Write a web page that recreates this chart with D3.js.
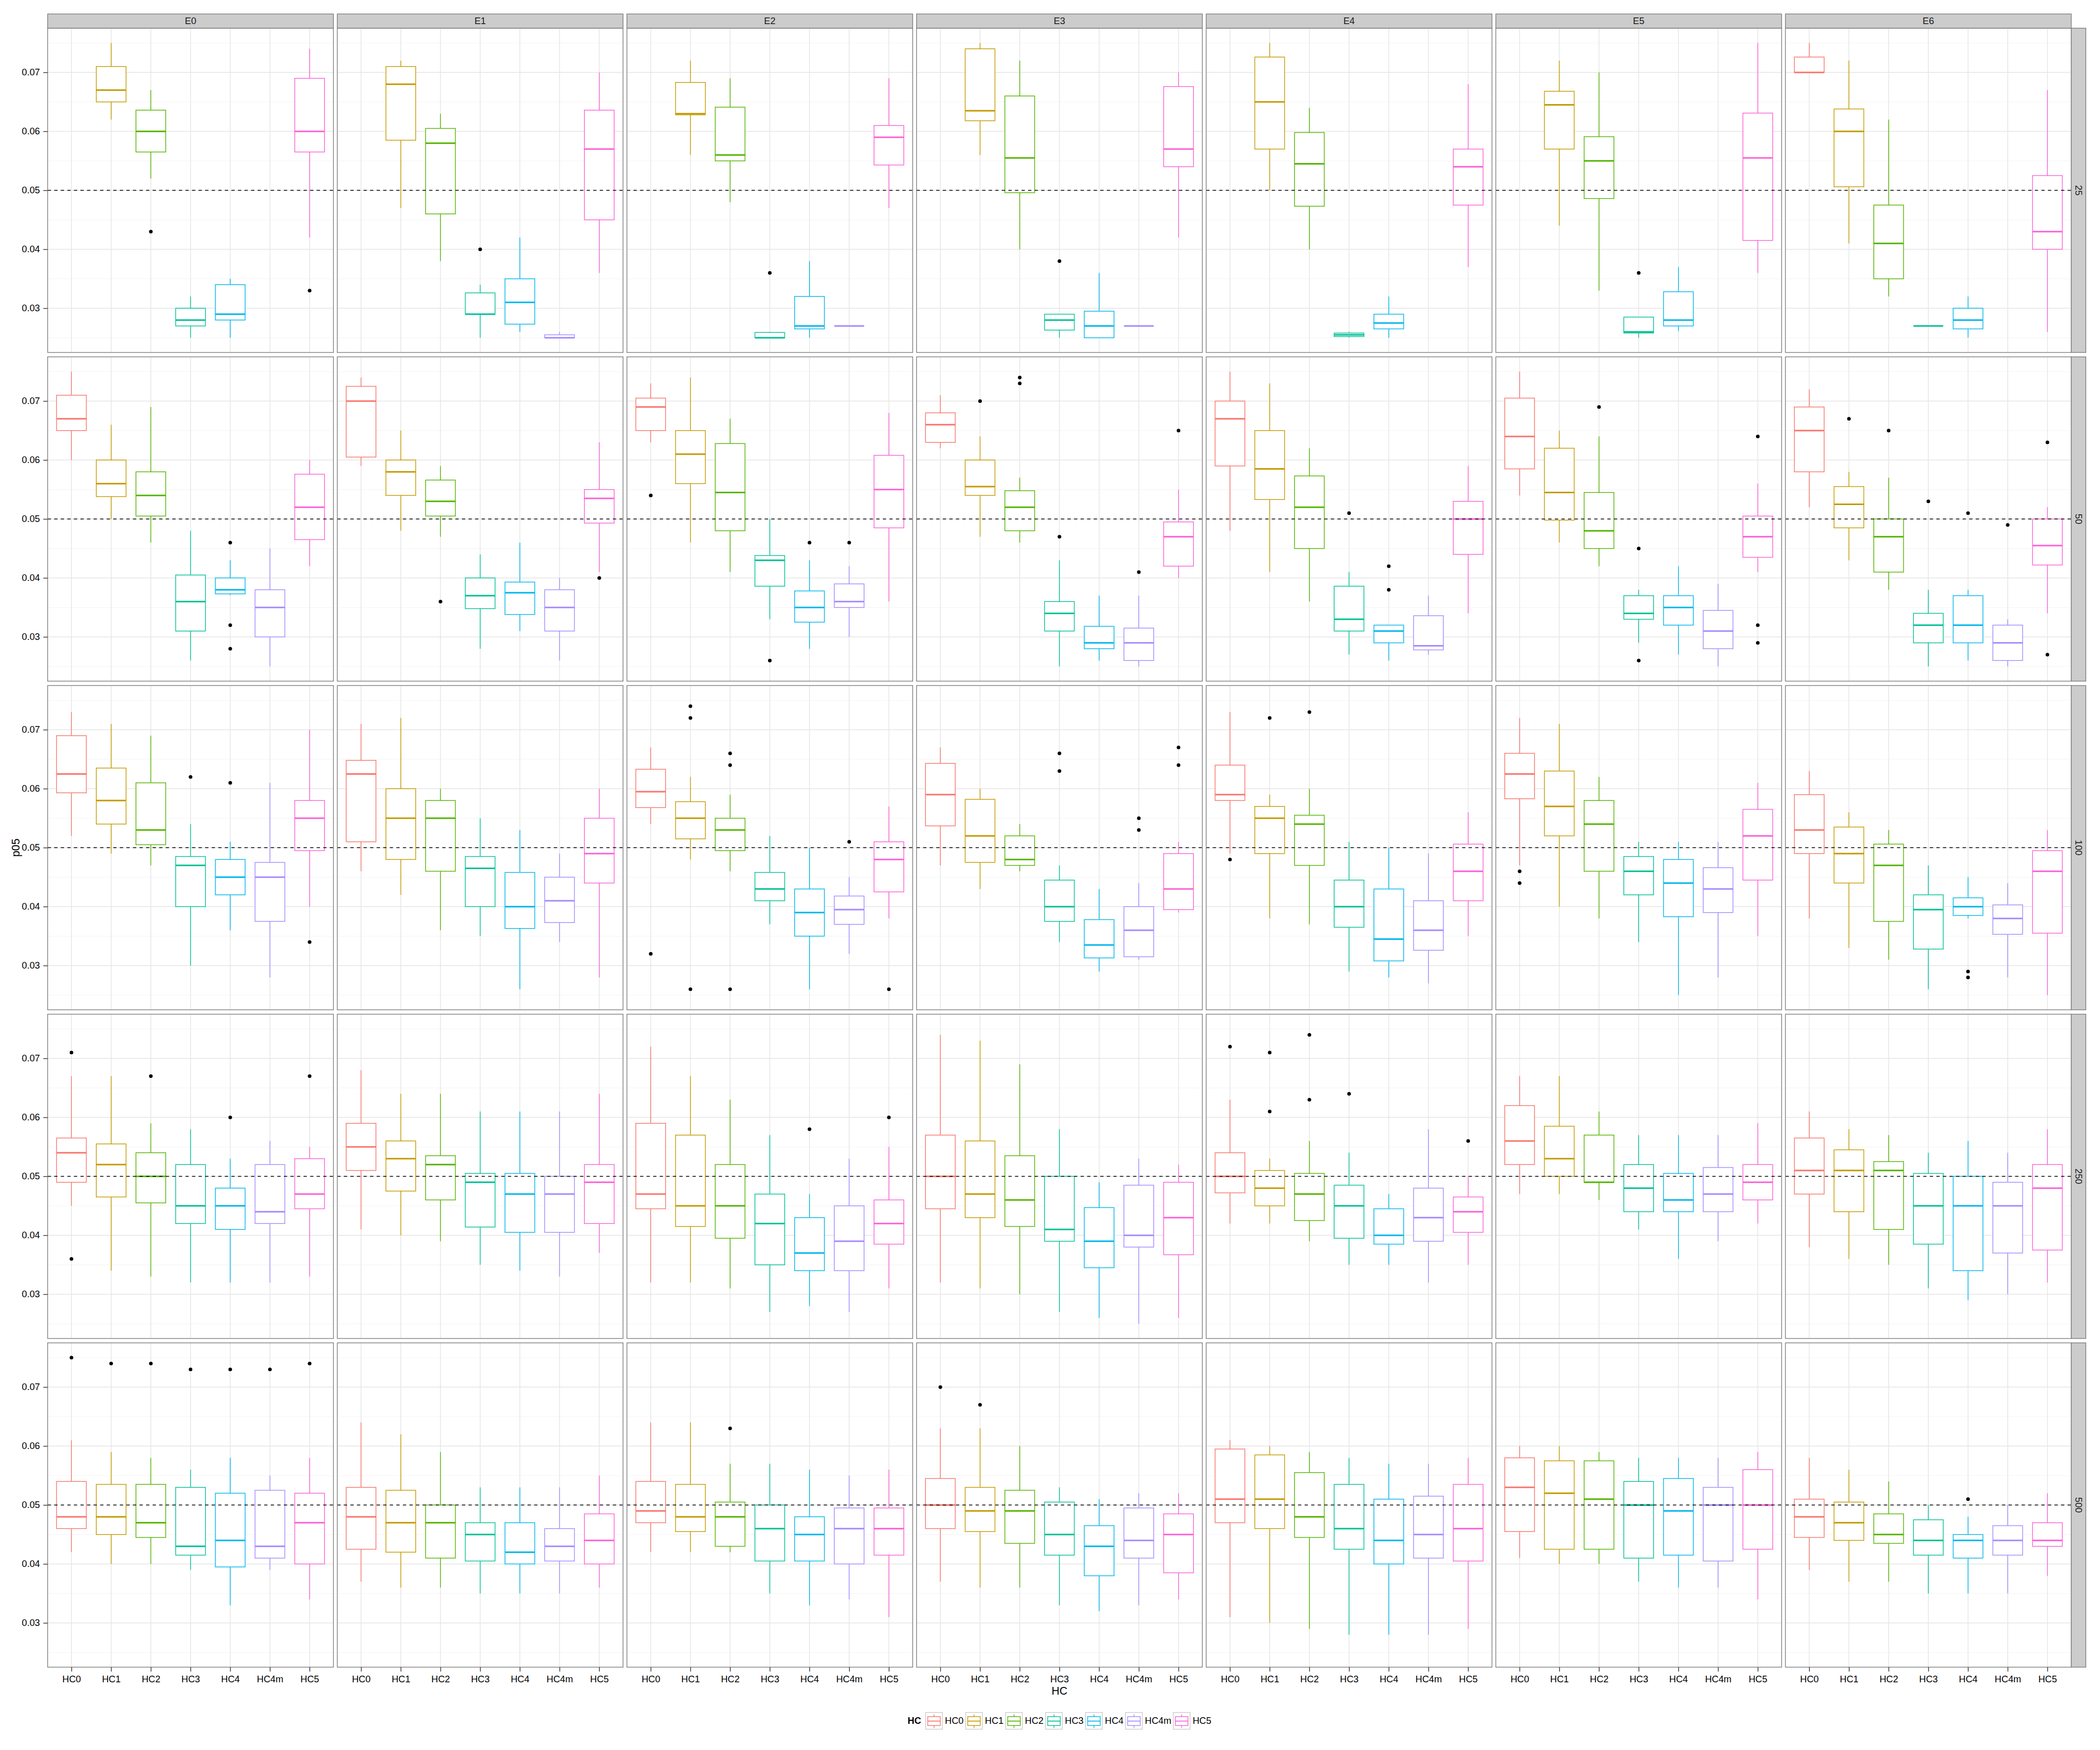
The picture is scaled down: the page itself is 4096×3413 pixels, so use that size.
<!DOCTYPE html>
<html><head><meta charset="utf-8">
<script src="https://cdn.jsdelivr.net/npm/d3@7"></script>
<style>html,body{margin:0;padding:0;background:#fff;}svg{display:block;}</style>
</head><body>
<script>
// ---------------- DATA ----------------
const E_COLS = ["E0","E1","E2","E3","E4","E5","E6"];
const N_ROWS = ["25","50","100","250","500"];
const HC_CATS = ["HC0","HC1","HC2","HC3","HC4","HC4m","HC5"];
const Y_TICKS = [0.03,0.04,0.05,0.06,0.07];
const REF_LINE = 0.05;
// each row: [E, HC, lowerWhisker, Q1, median, Q3, upperWhisker, outliers]
const stats25 = [
 ["E0","HC1",0.062,0.065,0.067,0.071,0.075,[]],
 ["E0","HC2",0.052,0.0565,0.060,0.0636,0.067,[0.043]],
 ["E0","HC3",0.025,0.027,0.028,0.030,0.032,[]],
 ["E0","HC4",0.025,0.028,0.029,0.034,0.035,[]],
 ["E0","HC5",0.042,0.0565,0.060,0.069,0.074,[0.033]],
 ["E1","HC1",0.047,0.0585,0.068,0.071,0.072,[]],
 ["E1","HC2",0.038,0.046,0.058,0.0605,0.063,[]],
 ["E1","HC3",0.025,0.029,0.029,0.0326,0.034,[0.040]],
 ["E1","HC4",0.026,0.0273,0.031,0.035,0.042,[]],
 ["E1","HC4m",0.025,0.025,0.025,0.0255,0.026,[]],
 ["E1","HC5",0.036,0.045,0.057,0.0636,0.070,[]],
 ["E2","HC1",0.056,0.0628,0.063,0.0683,0.072,[]],
 ["E2","HC2",0.048,0.055,0.056,0.0641,0.069,[]],
 ["E2","HC3",0.025,0.025,0.025,0.0259,0.026,[0.036]],
 ["E2","HC4",0.025,0.0265,0.027,0.032,0.038,[]],
 ["E2","HC4m",0.027,0.027,0.027,0.027,0.027,[]],
 ["E2","HC5",0.047,0.0543,0.059,0.061,0.069,[]],
 ["E3","HC1",0.056,0.0618,0.0635,0.074,0.075,[]],
 ["E3","HC2",0.040,0.0496,0.0555,0.066,0.072,[]],
 ["E3","HC3",0.025,0.0263,0.028,0.029,0.029,[0.038]],
 ["E3","HC4",0.025,0.025,0.027,0.0295,0.036,[]],
 ["E3","HC4m",0.027,0.027,0.027,0.027,0.027,[]],
 ["E3","HC5",0.042,0.054,0.057,0.0676,0.070,[]],
 ["E4","HC1",0.050,0.057,0.065,0.0726,0.075,[]],
 ["E4","HC2",0.040,0.0473,0.0545,0.0598,0.064,[]],
 ["E4","HC3",0.025,0.0252,0.0255,0.0258,0.026,[]],
 ["E4","HC4",0.025,0.0265,0.0275,0.029,0.032,[]],
 ["E4","HC5",0.037,0.0475,0.054,0.057,0.068,[]],
 ["E5","HC1",0.044,0.057,0.0645,0.0668,0.072,[]],
 ["E5","HC2",0.033,0.0486,0.055,0.0591,0.070,[]],
 ["E5","HC3",0.025,0.0258,0.026,0.0285,0.0285,[0.036]],
 ["E5","HC4",0.0261,0.027,0.028,0.0328,0.037,[]],
 ["E5","HC5",0.036,0.0415,0.0555,0.0631,0.075,[]],
 ["E6","HC0",0.070,0.070,0.070,0.0726,0.075,[]],
 ["E6","HC1",0.041,0.0506,0.060,0.0638,0.072,[]],
 ["E6","HC2",0.032,0.035,0.041,0.0475,0.062,[]],
 ["E6","HC3",0.027,0.027,0.027,0.027,0.027,[]],
 ["E6","HC4",0.025,0.0265,0.028,0.030,0.032,[]],
 ["E6","HC5",0.026,0.040,0.043,0.0525,0.067,[]]
];
const stats50 = [
 ["E0","HC0",0.060,0.065,0.067,0.071,0.075,[]],
 ["E0","HC1",0.050,0.0538,0.056,0.060,0.066,[]],
 ["E0","HC2",0.046,0.0505,0.054,0.058,0.069,[]],
 ["E0","HC3",0.026,0.031,0.036,0.0405,0.048,[]],
 ["E0","HC4",0.0371,0.0373,0.038,0.040,0.043,[0.046,0.032,0.028]],
 ["E0","HC4m",0.025,0.030,0.035,0.038,0.045,[]],
 ["E0","HC5",0.042,0.0465,0.052,0.0576,0.060,[]],
 ["E1","HC0",0.059,0.0605,0.070,0.0725,0.074,[]],
 ["E1","HC1",0.048,0.054,0.058,0.060,0.065,[]],
 ["E1","HC2",0.047,0.0505,0.053,0.0566,0.059,[0.036]],
 ["E1","HC3",0.028,0.0348,0.037,0.040,0.044,[]],
 ["E1","HC4",0.031,0.0338,0.0375,0.0393,0.046,[]],
 ["E1","HC4m",0.026,0.031,0.035,0.038,0.040,[]],
 ["E1","HC5",0.041,0.0493,0.0535,0.055,0.063,[0.040]],
 ["E2","HC0",0.063,0.065,0.069,0.0705,0.073,[0.054]],
 ["E2","HC1",0.046,0.056,0.061,0.065,0.074,[]],
 ["E2","HC2",0.041,0.048,0.0545,0.0628,0.067,[]],
 ["E2","HC3",0.033,0.0386,0.043,0.0438,0.050,[0.026]],
 ["E2","HC4",0.028,0.0325,0.035,0.0378,0.043,[0.046]],
 ["E2","HC4m",0.030,0.035,0.036,0.039,0.042,[0.046]],
 ["E2","HC5",0.036,0.0485,0.055,0.0608,0.068,[]],
 ["E3","HC0",0.062,0.063,0.066,0.068,0.071,[]],
 ["E3","HC1",0.047,0.054,0.0555,0.060,0.064,[0.070]],
 ["E3","HC2",0.046,0.048,0.052,0.0548,0.057,[0.074,0.073]],
 ["E3","HC3",0.025,0.031,0.034,0.036,0.043,[0.047]],
 ["E3","HC4",0.026,0.028,0.029,0.0318,0.037,[]],
 ["E3","HC4m",0.025,0.026,0.029,0.0315,0.037,[0.041]],
 ["E3","HC5",0.040,0.042,0.047,0.0495,0.055,[0.065]],
 ["E4","HC0",0.048,0.059,0.067,0.070,0.075,[]],
 ["E4","HC1",0.041,0.0533,0.0585,0.065,0.073,[]],
 ["E4","HC2",0.036,0.045,0.052,0.0573,0.062,[]],
 ["E4","HC3",0.027,0.031,0.033,0.0386,0.041,[0.051]],
 ["E4","HC4",0.026,0.029,0.031,0.032,0.032,[0.042,0.038]],
 ["E4","HC4m",0.027,0.0278,0.0285,0.0336,0.037,[]],
 ["E4","HC5",0.034,0.044,0.050,0.053,0.059,[]],
 ["E5","HC0",0.054,0.0585,0.064,0.0705,0.075,[]],
 ["E5","HC1",0.046,0.0498,0.0545,0.062,0.065,[]],
 ["E5","HC2",0.042,0.045,0.048,0.0545,0.064,[0.069]],
 ["E5","HC3",0.029,0.033,0.034,0.037,0.038,[0.045,0.026]],
 ["E5","HC4",0.027,0.032,0.035,0.037,0.042,[]],
 ["E5","HC4m",0.025,0.028,0.031,0.0345,0.039,[]],
 ["E5","HC5",0.041,0.0435,0.047,0.0505,0.056,[0.064,0.032,0.029]],
 ["E6","HC0",0.052,0.058,0.065,0.069,0.072,[]],
 ["E6","HC1",0.043,0.0485,0.0525,0.0555,0.058,[0.067]],
 ["E6","HC2",0.038,0.041,0.047,0.050,0.057,[0.065]],
 ["E6","HC3",0.025,0.029,0.032,0.034,0.038,[0.053]],
 ["E6","HC4",0.026,0.029,0.032,0.037,0.038,[0.051]],
 ["E6","HC4m",0.025,0.026,0.029,0.032,0.033,[0.049]],
 ["E6","HC5",0.034,0.0422,0.0455,0.050,0.052,[0.063,0.027]]
];
const stats100 = [
 ["E0","HC0",0.052,0.0593,0.0625,0.069,0.073,[]],
 ["E0","HC1",0.049,0.054,0.058,0.0635,0.071,[]],
 ["E0","HC2",0.047,0.0505,0.053,0.061,0.069,[]],
 ["E0","HC3",0.030,0.040,0.047,0.0485,0.054,[0.062]],
 ["E0","HC4",0.036,0.042,0.045,0.048,0.051,[0.061]],
 ["E0","HC4m",0.028,0.0375,0.045,0.0475,0.061,[]],
 ["E0","HC5",0.040,0.0495,0.055,0.058,0.070,[0.034]],
 ["E1","HC0",0.046,0.051,0.0625,0.0648,0.071,[]],
 ["E1","HC1",0.042,0.048,0.055,0.060,0.072,[]],
 ["E1","HC2",0.036,0.046,0.055,0.058,0.060,[]],
 ["E1","HC3",0.035,0.040,0.0465,0.0485,0.055,[]],
 ["E1","HC4",0.026,0.0363,0.040,0.0458,0.053,[]],
 ["E1","HC4m",0.034,0.0373,0.041,0.045,0.049,[]],
 ["E1","HC5",0.028,0.044,0.049,0.055,0.060,[]],
 ["E2","HC0",0.054,0.0568,0.0595,0.0633,0.067,[0.032]],
 ["E2","HC1",0.048,0.0515,0.055,0.0578,0.062,[0.074,0.072,0.026]],
 ["E2","HC2",0.046,0.0495,0.053,0.055,0.059,[0.066,0.064,0.026]],
 ["E2","HC3",0.037,0.041,0.043,0.0458,0.052,[]],
 ["E2","HC4",0.026,0.035,0.039,0.043,0.050,[]],
 ["E2","HC4m",0.032,0.037,0.0395,0.0418,0.045,[0.051]],
 ["E2","HC5",0.038,0.0425,0.048,0.051,0.057,[0.026]],
 ["E3","HC0",0.047,0.0537,0.059,0.0643,0.067,[]],
 ["E3","HC1",0.043,0.0475,0.052,0.0582,0.060,[]],
 ["E3","HC2",0.046,0.047,0.048,0.052,0.054,[]],
 ["E3","HC3",0.034,0.0375,0.040,0.0445,0.047,[0.066,0.063]],
 ["E3","HC4",0.029,0.0313,0.0335,0.0378,0.043,[]],
 ["E3","HC4m",0.031,0.0315,0.036,0.040,0.044,[0.055,0.053]],
 ["E3","HC5",0.039,0.0395,0.043,0.049,0.051,[0.067,0.064]],
 ["E4","HC0",0.049,0.058,0.059,0.064,0.073,[0.048]],
 ["E4","HC1",0.038,0.049,0.055,0.057,0.059,[0.072]],
 ["E4","HC2",0.037,0.047,0.054,0.0555,0.060,[0.073]],
 ["E4","HC3",0.029,0.0365,0.040,0.0445,0.051,[]],
 ["E4","HC4",0.028,0.0308,0.0345,0.043,0.050,[]],
 ["E4","HC4m",0.027,0.0326,0.036,0.041,0.049,[]],
 ["E4","HC5",0.035,0.041,0.046,0.0506,0.056,[]],
 ["E5","HC0",0.047,0.0583,0.0625,0.066,0.072,[0.046,0.044]],
 ["E5","HC1",0.040,0.052,0.057,0.063,0.071,[]],
 ["E5","HC2",0.038,0.046,0.054,0.058,0.062,[]],
 ["E5","HC3",0.034,0.042,0.046,0.0485,0.051,[]],
 ["E5","HC4",0.025,0.0383,0.044,0.048,0.051,[]],
 ["E5","HC4m",0.028,0.039,0.043,0.0466,0.051,[]],
 ["E5","HC5",0.035,0.0445,0.052,0.0565,0.061,[]],
 ["E6","HC0",0.038,0.049,0.053,0.059,0.063,[]],
 ["E6","HC1",0.033,0.044,0.049,0.0535,0.056,[]],
 ["E6","HC2",0.031,0.0375,0.047,0.0506,0.053,[]],
 ["E6","HC3",0.026,0.0328,0.0395,0.042,0.047,[]],
 ["E6","HC4",0.038,0.0385,0.040,0.0415,0.045,[0.029,0.028]],
 ["E6","HC4m",0.028,0.0353,0.038,0.0403,0.044,[]],
 ["E6","HC5",0.025,0.0355,0.046,0.0495,0.053,[]]
];
const stats250 = [
 ["E0","HC0",0.045,0.049,0.054,0.0565,0.067,[0.071,0.036]],
 ["E0","HC1",0.034,0.0465,0.052,0.0555,0.067,[]],
 ["E0","HC2",0.033,0.0455,0.050,0.054,0.059,[0.067]],
 ["E0","HC3",0.032,0.042,0.045,0.052,0.058,[]],
 ["E0","HC4",0.032,0.041,0.045,0.048,0.053,[0.060]],
 ["E0","HC4m",0.032,0.042,0.044,0.052,0.056,[]],
 ["E0","HC5",0.033,0.0445,0.047,0.053,0.055,[0.067]],
 ["E1","HC0",0.041,0.051,0.055,0.059,0.068,[]],
 ["E1","HC1",0.040,0.0475,0.053,0.056,0.064,[]],
 ["E1","HC2",0.039,0.046,0.052,0.0535,0.064,[]],
 ["E1","HC3",0.035,0.0414,0.049,0.0505,0.061,[]],
 ["E1","HC4",0.034,0.0405,0.047,0.0505,0.061,[]],
 ["E1","HC4m",0.033,0.0405,0.047,0.050,0.061,[]],
 ["E1","HC5",0.037,0.042,0.049,0.052,0.064,[]],
 ["E2","HC0",0.032,0.0445,0.047,0.059,0.072,[]],
 ["E2","HC1",0.032,0.0415,0.045,0.057,0.067,[]],
 ["E2","HC2",0.031,0.0395,0.045,0.052,0.063,[]],
 ["E2","HC3",0.027,0.035,0.042,0.047,0.057,[]],
 ["E2","HC4",0.028,0.034,0.037,0.043,0.047,[0.058]],
 ["E2","HC4m",0.027,0.034,0.039,0.045,0.053,[]],
 ["E2","HC5",0.031,0.0385,0.042,0.046,0.055,[0.060]],
 ["E3","HC0",0.032,0.0445,0.050,0.057,0.074,[]],
 ["E3","HC1",0.031,0.043,0.047,0.056,0.073,[]],
 ["E3","HC2",0.030,0.0415,0.046,0.0535,0.069,[]],
 ["E3","HC3",0.027,0.039,0.041,0.050,0.058,[]],
 ["E3","HC4",0.026,0.0345,0.039,0.0447,0.049,[]],
 ["E3","HC4m",0.025,0.038,0.040,0.0485,0.053,[]],
 ["E3","HC5",0.026,0.0367,0.043,0.049,0.052,[]],
 ["E4","HC0",0.042,0.0472,0.050,0.054,0.063,[0.072]],
 ["E4","HC1",0.042,0.045,0.048,0.051,0.053,[0.071,0.061]],
 ["E4","HC2",0.039,0.0425,0.047,0.0505,0.056,[0.074,0.063]],
 ["E4","HC3",0.035,0.0395,0.045,0.0485,0.054,[0.064]],
 ["E4","HC4",0.035,0.0385,0.040,0.0445,0.047,[]],
 ["E4","HC4m",0.032,0.039,0.043,0.048,0.058,[]],
 ["E4","HC5",0.035,0.0405,0.044,0.0465,0.050,[0.056]],
 ["E5","HC0",0.047,0.052,0.056,0.062,0.067,[]],
 ["E5","HC1",0.047,0.050,0.053,0.0585,0.067,[]],
 ["E5","HC2",0.046,0.049,0.049,0.057,0.061,[]],
 ["E5","HC3",0.041,0.044,0.048,0.052,0.057,[]],
 ["E5","HC4",0.036,0.044,0.046,0.0505,0.057,[]],
 ["E5","HC4m",0.039,0.044,0.047,0.0515,0.057,[]],
 ["E5","HC5",0.042,0.046,0.049,0.052,0.059,[]],
 ["E6","HC0",0.038,0.047,0.051,0.0565,0.061,[]],
 ["E6","HC1",0.036,0.044,0.051,0.0545,0.058,[]],
 ["E6","HC2",0.035,0.041,0.051,0.0525,0.057,[]],
 ["E6","HC3",0.031,0.0385,0.045,0.0505,0.054,[]],
 ["E6","HC4",0.029,0.034,0.045,0.050,0.056,[]],
 ["E6","HC4m",0.030,0.037,0.045,0.049,0.054,[]],
 ["E6","HC5",0.032,0.0375,0.048,0.052,0.058,[]]
];
const stats500 = [
 ["E0","HC0",0.042,0.046,0.048,0.054,0.061,[0.075]],
 ["E0","HC1",0.040,0.045,0.048,0.0535,0.059,[0.074]],
 ["E0","HC2",0.040,0.0445,0.047,0.0535,0.058,[0.074]],
 ["E0","HC3",0.039,0.0415,0.043,0.053,0.056,[0.073]],
 ["E0","HC4",0.033,0.0395,0.044,0.052,0.058,[0.073]],
 ["E0","HC4m",0.039,0.041,0.043,0.0525,0.055,[0.073]],
 ["E0","HC5",0.034,0.040,0.047,0.052,0.058,[0.074]],
 ["E1","HC0",0.037,0.0425,0.048,0.053,0.064,[]],
 ["E1","HC1",0.036,0.042,0.047,0.0525,0.062,[]],
 ["E1","HC2",0.036,0.041,0.047,0.050,0.059,[]],
 ["E1","HC3",0.035,0.0405,0.045,0.047,0.053,[]],
 ["E1","HC4",0.035,0.040,0.042,0.047,0.053,[]],
 ["E1","HC4m",0.035,0.0405,0.043,0.046,0.053,[]],
 ["E1","HC5",0.036,0.040,0.044,0.0485,0.055,[]],
 ["E2","HC0",0.042,0.047,0.049,0.054,0.064,[]],
 ["E2","HC1",0.042,0.0455,0.048,0.0535,0.064,[]],
 ["E2","HC2",0.042,0.043,0.048,0.0505,0.057,[0.063]],
 ["E2","HC3",0.035,0.0405,0.046,0.050,0.057,[]],
 ["E2","HC4",0.033,0.0405,0.045,0.048,0.056,[]],
 ["E2","HC4m",0.034,0.040,0.046,0.0495,0.055,[]],
 ["E2","HC5",0.031,0.0415,0.046,0.0495,0.056,[]],
 ["E3","HC0",0.037,0.046,0.050,0.0545,0.063,[0.070]],
 ["E3","HC1",0.036,0.0455,0.049,0.053,0.063,[0.067]],
 ["E3","HC2",0.036,0.0435,0.049,0.0525,0.060,[]],
 ["E3","HC3",0.033,0.0415,0.045,0.0505,0.053,[]],
 ["E3","HC4",0.032,0.038,0.043,0.0465,0.051,[]],
 ["E3","HC4m",0.033,0.041,0.044,0.0495,0.052,[]],
 ["E3","HC5",0.034,0.0385,0.045,0.0485,0.052,[]],
 ["E4","HC0",0.031,0.047,0.051,0.0595,0.061,[]],
 ["E4","HC1",0.030,0.046,0.051,0.0585,0.060,[]],
 ["E4","HC2",0.029,0.0445,0.048,0.0555,0.059,[]],
 ["E4","HC3",0.028,0.0425,0.046,0.0535,0.058,[]],
 ["E4","HC4",0.028,0.040,0.044,0.051,0.057,[]],
 ["E4","HC4m",0.028,0.041,0.045,0.0515,0.057,[]],
 ["E4","HC5",0.029,0.0405,0.046,0.0535,0.058,[]],
 ["E5","HC0",0.041,0.0455,0.053,0.058,0.060,[]],
 ["E5","HC1",0.040,0.0425,0.052,0.0575,0.060,[]],
 ["E5","HC2",0.040,0.0425,0.051,0.0575,0.059,[]],
 ["E5","HC3",0.037,0.041,0.050,0.054,0.058,[]],
 ["E5","HC4",0.036,0.0415,0.049,0.0545,0.058,[]],
 ["E5","HC4m",0.036,0.0405,0.050,0.053,0.058,[]],
 ["E5","HC5",0.034,0.0425,0.050,0.056,0.059,[]],
 ["E6","HC0",0.039,0.0445,0.048,0.051,0.058,[]],
 ["E6","HC1",0.037,0.044,0.047,0.0505,0.056,[]],
 ["E6","HC2",0.037,0.0435,0.045,0.0485,0.054,[]],
 ["E6","HC3",0.035,0.0415,0.044,0.0475,0.050,[]],
 ["E6","HC4",0.035,0.041,0.044,0.045,0.048,[0.051]],
 ["E6","HC4m",0.035,0.0415,0.044,0.0465,0.050,[]],
 ["E6","HC5",0.038,0.043,0.044,0.047,0.052,[]]
];
const HC_COLORS = ["#F8766D","#C49A00","#53B400","#00C094","#00B6EB","#A58AFF","#FB61D7"];
const X_TITLE = "HC", Y_TITLE = "p05", LEGEND_TITLE = "HC";

// ---------------- LAYOUT (reference pixel units) ----------------
const W = 5760, H = 4800;
const L = {x0:130.4, pw:784, px:794.5, y0:77.3, ph:889.5, py:901.5, stripH:39, stripW:40};
const FONT = "'Liberation Sans', Arial, Helvetica, sans-serif";
const FS = 25.6;

const svg = d3.select("body").append("svg")
  .attr("width", 4096).attr("height", 3413)
  .attr("viewBox", `0 0 ${W} ${H}`)
  .attr("font-family", FONT);
svg.append("rect").attr("width", W).attr("height", H).attr("fill", "#fff");

const color = d3.scaleOrdinal().domain(HC_CATS).range(HC_COLORS);
const rowsData = [stats25, stats50, stats100, stats250, stats500];
const minorTicks = d3.range(0.025, 0.0751, 0.01);

N_ROWS.forEach((n, ri) => {
  const top = L.y0 + ri * L.py;
  const y = d3.scaleLinear().domain([0.0225, 0.0775]).range([top + L.ph, top]);
  E_COLS.forEach((e, ci) => {
    const left = L.x0 + ci * L.px;
    const x = d3.scalePoint().domain(HC_CATS).range([left, left + L.pw]).padding(0.6);
    const g = svg.append("g");
    g.append("rect").attr("x", left).attr("y", top).attr("width", L.pw).attr("height", L.ph).attr("fill", "#fff");
    // grid
    g.selectAll(".mn").data(minorTicks).join("line")
      .attr("x1", left).attr("x2", left + L.pw).attr("y1", d => y(d)).attr("y2", d => y(d))
      .attr("stroke", "#F7F7F7").attr("stroke-width", 2);
    g.selectAll(".mj").data(Y_TICKS).join("line")
      .attr("x1", left).attr("x2", left + L.pw).attr("y1", d => y(d)).attr("y2", d => y(d))
      .attr("stroke", "#E5E5E5").attr("stroke-width", 2);
    g.selectAll(".vg").data(HC_CATS).join("line")
      .attr("x1", d => x(d)).attr("x2", d => x(d)).attr("y1", top).attr("y2", top + L.ph)
      .attr("stroke", "#E5E5E5").attr("stroke-width", 2);
    // boxes
    const bw = x.step() * 0.75;
    const data = rowsData[ri].filter(d => d[0] === e);
    const bx = g.selectAll(".bx").data(data).join("g");
    bx.append("line").attr("x1", d => x(d[1])).attr("x2", d => x(d[1]))
      .attr("y1", d => y(d[6])).attr("y2", d => y(d[5]))
      .attr("stroke", d => color(d[1])).attr("stroke-width", 2);
    bx.append("line").attr("x1", d => x(d[1])).attr("x2", d => x(d[1]))
      .attr("y1", d => y(d[3])).attr("y2", d => y(d[2]))
      .attr("stroke", d => color(d[1])).attr("stroke-width", 2);
    bx.append("rect").attr("x", d => x(d[1]) - bw / 2).attr("width", bw)
      .attr("y", d => y(d[5])).attr("height", d => Math.max(0, y(d[3]) - y(d[5])))
      .attr("fill", "#fff").attr("stroke", d => color(d[1])).attr("stroke-width", 2);
    bx.append("line").attr("x1", d => x(d[1]) - bw / 2).attr("x2", d => x(d[1]) + bw / 2)
      .attr("y1", d => y(d[4])).attr("y2", d => y(d[4]))
      .attr("stroke", d => color(d[1])).attr("stroke-width", 4.2);
    bx.each(function(d) {
      d3.select(this).selectAll("circle").data(d[7]).join("circle")
        .attr("cx", x(d[1])).attr("cy", v => y(v)).attr("r", 5).attr("fill", "#000");
    });
    // reference line
    g.append("line").attr("x1", left).attr("x2", left + L.pw)
      .attr("y1", y(REF_LINE)).attr("y2", y(REF_LINE))
      .attr("stroke", "#000").attr("stroke-width", 2).attr("stroke-dasharray", "9,9");
    // border
    g.append("rect").attr("x", left).attr("y", top).attr("width", L.pw).attr("height", L.ph)
      .attr("fill", "none").attr("stroke", "#7F7F7F").attr("stroke-width", 2);
    // strips
    if (ri === 0) {
      g.append("rect").attr("x", left).attr("y", top - L.stripH).attr("width", L.pw).attr("height", L.stripH)
        .attr("fill", "#CCCCCC").attr("stroke", "#7F7F7F").attr("stroke-width", 2);
      g.append("text").attr("x", left + L.pw / 2).attr("y", top - L.stripH / 2).attr("dy", "0.35em")
        .attr("text-anchor", "middle").attr("font-size", FS).attr("fill", "#1A1A1A").text(e);
    }
    if (ci === E_COLS.length - 1) {
      const sx = left + L.pw;
      g.append("rect").attr("x", sx).attr("y", top).attr("width", L.stripW).attr("height", L.ph)
        .attr("fill", "#CCCCCC").attr("stroke", "#7F7F7F").attr("stroke-width", 2);
      g.append("text").attr("transform", `translate(${sx + L.stripW / 2},${top + L.ph / 2}) rotate(90)`)
        .attr("dy", "0.35em").attr("text-anchor", "middle").attr("font-size", FS).attr("fill", "#1A1A1A").text(n);
    }
    // axes
    if (ci === 0) {
      const ax = svg.append("g").attr("transform", `translate(${left},0)`)
        .call(d3.axisLeft(y).tickValues(Y_TICKS).tickSize(12).tickPadding(9).tickFormat(d3.format(".2f")));
      ax.select(".domain").remove();
      ax.selectAll("line").attr("stroke", "#333").attr("stroke-width", 2);
      ax.selectAll("text").attr("font-size", FS).attr("font-family", FONT).attr("fill", "#000");
    }
    if (ri === N_ROWS.length - 1) {
      const ax = svg.append("g").attr("transform", `translate(0,${top + L.ph})`)
        .call(d3.axisBottom(x).tickSize(12).tickPadding(12));
      ax.select(".domain").remove();
      ax.selectAll("line").attr("stroke", "#333").attr("stroke-width", 2);
      ax.selectAll("text").attr("font-size", FS).attr("font-family", FONT).attr("fill", "#000");
    }
  });
});

// axis titles
const plotCx = L.x0 + (6 * L.px + L.pw) / 2;
const plotCy = L.y0 + (4 * L.py + L.ph) / 2;
svg.append("text").attr("x", plotCx).attr("y", 4648).attr("text-anchor", "middle")
  .attr("font-size", 30).attr("fill", "#000").text(X_TITLE);
svg.append("text").attr("transform", `translate(53,${plotCy}) rotate(-90)`).attr("text-anchor", "middle")
  .attr("font-size", 30).attr("fill", "#000").text(Y_TITLE);

// legend
const leg = svg.append("g");
const legY = 4720, key = 46;
const lt = leg.append("text").attr("y", legY).attr("dy", "0.35em").attr("font-size", FS)
  .attr("font-weight", "bold").attr("fill", "#000").text(LEGEND_TITLE);
let cx = lt.node().getComputedTextLength() + 12.5;
const items = [];
HC_CATS.forEach(hc => {
  const it = leg.append("g").attr("transform", `translate(${cx},${legY - key / 2})`);
  it.append("rect").attr("width", key).attr("height", key).attr("fill", "#fff").attr("stroke", "#CCCCCC").attr("stroke-width", 2);
  const c = color(hc);
  it.append("line").attr("x1", key / 2).attr("x2", key / 2).attr("y1", key * 0.12).attr("y2", key * 0.25).attr("stroke", c).attr("stroke-width", 2);
  it.append("line").attr("x1", key / 2).attr("x2", key / 2).attr("y1", key * 0.78).attr("y2", key * 0.92).attr("stroke", c).attr("stroke-width", 2);
  it.append("rect").attr("x", key * 0.125).attr("y", key * 0.25).attr("width", key * 0.75).attr("height", key * 0.53)
    .attr("fill", "#fff").attr("stroke", c).attr("stroke-width", 2);
  it.append("line").attr("x1", key * 0.125).attr("x2", key * 0.875).attr("y1", key * 0.515).attr("y2", key * 0.515).attr("stroke", c).attr("stroke-width", 2.5);
  const t = it.append("text").attr("x", key + 7).attr("y", key / 2).attr("dy", "0.35em")
    .attr("font-size", FS).attr("fill", "#000").text(hc);
  cx += key + 7 + t.node().getComputedTextLength() + 5.5;
});
const legW = cx - 5.5;
leg.attr("transform", `translate(${plotCx - legW / 2},0)`);
</script>
</body></html>
